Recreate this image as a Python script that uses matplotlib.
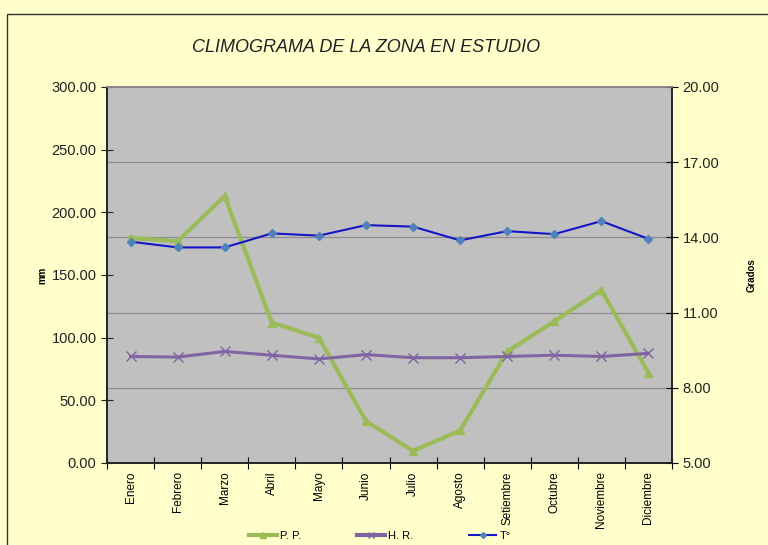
import matplotlib
matplotlib.use("Agg")
import matplotlib.pyplot as plt
import numpy as np
from matplotlib.lines import Line2D
from matplotlib.patches import Rectangle

plt.rcParams["font.family"] = ["Liberation Sans", "DejaVu Sans"]

MESES = ["Enero", "Febrero", "Marzo", "Abril", "Mayo", "Junio", "Julio",
         "Agosto", "Setiembre", "Octubre", "Noviembre", "Diciembre"]
PP = [179.5, 177.0, 213.0, 112.0, 100.0, 33.5, 9.6, 26.0, 89.0, 113.0, 138.0, 72.0]
HR = [85.0, 84.5, 89.0, 86.0, 83.0, 86.5, 84.0, 84.0, 85.0, 86.0, 85.0, 87.5]
TEMP = [13.83, 13.60, 13.60, 14.16, 14.07, 14.49, 14.43, 13.88, 14.25, 14.13, 14.65, 13.94]

BG = "#FFFFCC"
fig = plt.figure(figsize=(7.68, 5.45), dpi=100, facecolor=BG)
fig.patches.append(Rectangle((7 / 768, -0.1), 1.2, 1 - 14 / 545 + 0.1,
                             transform=fig.transFigure, fill=False,
                             edgecolor="#333333", linewidth=1))

ax = fig.add_axes([107 / 768, 1 - 463 / 545, 565 / 768, 376 / 545])
ax.set_facecolor("#C0C0C0")
x = np.arange(len(MESES))

# grid at the right-axis ticks (8, 11, 14, 17 -> 60, 120, 180, 240 mm)
for g in [60, 120, 180, 240]:
    ax.axhline(g, color="#8C8C8C", linewidth=0.9, zorder=1)

ax.plot(x, PP, color="#9BBB59", linewidth=3, marker="^", markersize=6,
        zorder=3)
ax.plot(x, HR, color="#8064A2", linewidth=2.2, marker="x", markersize=7,
        markeredgewidth=1, zorder=3)

ax.set_xlim(-0.5, 11.5)
ax.set_ylim(0, 300)
ax.set_yticks(np.arange(0, 301, 50))
ax.set_yticklabels([f"{v:.2f}" for v in np.arange(0, 301, 50)])
ax.set_xticks(np.arange(-0.5, 12, 1))
ax.set_xticklabels([])
ax.set_xticks(x, minor=True)
ax.set_xticklabels(MESES, minor=True, rotation=90, fontsize=8.5)
ax.tick_params(axis="x", which="minor", length=0, pad=6)
ax.tick_params(axis="x", which="major", direction="inout", length=8)
ax.tick_params(axis="y", direction="inout", length=8, labelsize=10.5,
               colors="#222222", labelcolor="#222222")
ax.set_ylabel("mm", fontsize=7, fontweight="bold", labelpad=3)

ax2 = ax.twinx()
ax2.plot(x, TEMP, color="#1515C8", linewidth=1.5, marker="D", markersize=4,
         markerfacecolor="#4F81BD", markeredgecolor="#4F81BD", zorder=3)
ax2.set_ylim(5, 20)
ax2.set_yticks([5, 8, 11, 14, 17, 20])
ax2.set_yticklabels([f"{v:.2f}" for v in [5, 8, 11, 14, 17, 20]])
ax2.tick_params(axis="y", direction="inout", length=8, labelsize=10.5,
                labelcolor="#222222")
ax2.set_ylabel("Grados", fontsize=7, fontweight="bold", labelpad=20)

for a in (ax, ax2):
    for s in a.spines.values():
        s.set_linewidth(1.2)
        s.set_color("#222222")
ax.spines["top"].set_color("#888888")
ax2.spines["top"].set_color("#888888")

fig.text(366 / 768, 1 - 47 / 545, "CLIMOGRAMA DE LA ZONA EN ESTUDIO",
         ha="center", va="center", fontsize=13, style="italic",
         color="#222222")

handles = [
    Line2D([], [], color="#9BBB59", linewidth=3, marker="^", markersize=4),
    Line2D([], [], color="#8064A2", linewidth=3, marker="x", markersize=4),
    Line2D([], [], color="#1515C8", linewidth=1.5, marker="D", markersize=3,
           markerfacecolor="#4F81BD", markeredgecolor="#4F81BD"),
]
fig.legend(handles, ["P. P.", "H. R.", "T°"], loc="center",
           bbox_to_anchor=(380 / 768, 1 - 536 / 545), ncol=3, frameon=False,
           fontsize=8, handlelength=2.5, columnspacing=5, handletextpad=0.3)

fig.savefig("out.png", dpi=100, facecolor=BG)
